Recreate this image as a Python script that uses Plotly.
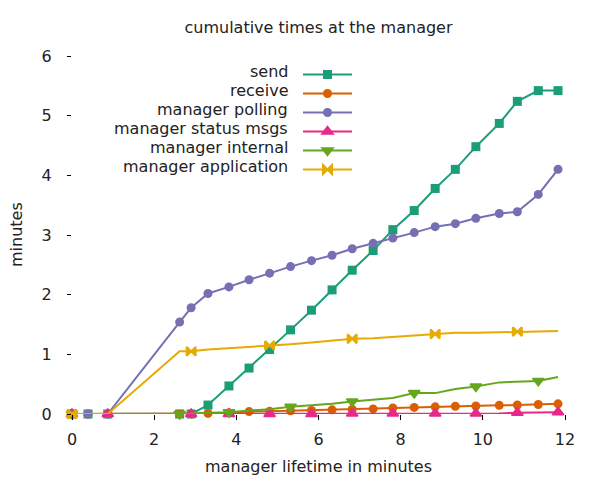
import plotly.graph_objects as go

minutes = [0, 0.39, 0.87, 2.62, 2.90, 3.31, 3.82, 4.31, 4.81, 5.32, 5.83, 6.33,
           6.82, 7.33, 7.81, 8.33, 8.84, 9.33, 9.83, 10.40, 10.84, 11.35, 11.83]

send = [0, 0, 0, 0, 0, 0.15, 0.47, 0.77, 1.08, 1.41, 1.74, 2.08, 2.41, 2.74,
        3.09, 3.41, 3.78, 4.10, 4.48, 4.87, 5.24, 5.42, 5.42]
receive = [0, 0, 0, 0, 0, 0.01, 0.02, 0.04, 0.045, 0.055, 0.06, 0.07, 0.075,
           0.085, 0.10, 0.11, 0.12, 0.13, 0.135, 0.145, 0.15, 0.16, 0.17]
polling = [0, 0, 0, 1.54, 1.78, 2.02, 2.13, 2.25, 2.36, 2.47, 2.57, 2.66, 2.77,
           2.86, 2.95, 3.04, 3.14, 3.19, 3.28, 3.36, 3.39, 3.68, 4.10]
status_msgs = [0, 0, 0, 0, 0, 0, 0, 0, 0, 0, 0, 0.01, 0.01, 0.01, 0.01, 0.01,
               0.01, 0.01, 0.01, 0.01, 0.02, 0.02, 0.03]
internal = [0, 0, 0, 0, 0.01, 0.02, 0.03, 0.06, 0.08, 0.12, 0.14, 0.17, 0.21,
            0.24, 0.27, 0.35, 0.35, 0.42, 0.46, 0.53, 0.54, 0.555, 0.62]
application = [0, 0, 0, 1.05, 1.05, 1.08, 1.10, 1.12, 1.15, 1.17, 1.20, 1.23,
               1.26, 1.27, 1.29, 1.31, 1.34, 1.36, 1.36, 1.37, 1.38, 1.39, 1.39]

series_names = ["send", "receive", "manager polling", "manager status msgs",
                "manager internal", "manager application"]
series_values = [send, receive, polling, status_msgs, internal, application]
colors = ["#1b9e77", "#d95f02", "#7570b3", "#e7298a", "#66a61e", "#e6ab02"]
symbols = ["square", "circle", "circle", "triangle-up", "triangle-down", "bowtie"]
marker_sizes = [9, 9, 9, 10, 10, 9]
marker_outline = [0, 0, 0, 1.5, 1.5, 2]
point_interval = [1, 1, 1, 2, 3, 4]

x_ticks = [0, 2, 4, 6, 8, 10, 12]
y_ticks = [0, 1, 2, 3, 4, 5, 6]

FONT = "DejaVu Sans"

# plot area in pixels
L, R, T, B = 72, 35, 56, 66
W, H = 600, 480
pw = W - L - R
ph = H - T - B

fig = go.Figure()

for name, vals, col, sym, ms, mo, pi in zip(series_names, series_values, colors, symbols,
                                          marker_sizes, marker_outline, point_interval):
    mk = dict(color=col, symbol=sym, size=ms, line=dict(color=col, width=mo))
    fig.add_trace(go.Scatter(x=minutes, y=vals, mode="lines",
                             line=dict(color=col, width=2), showlegend=False,
                             cliponaxis=False, hoverinfo="skip"))
    fig.add_trace(go.Scatter(x=minutes[::pi], y=vals[::pi], mode="markers",
                             marker=mk, showlegend=False, cliponaxis=False, name=name))
    # legend entry (symbol only, text drawn right-aligned as annotation)
    fig.add_trace(go.Scatter(x=[None], y=[None], mode="lines+markers",
                             line=dict(color=col, width=2), marker=mk,
                             name="", showlegend=True))

annotations = []
row0 = 71
row_step = 19.05
for i, name in enumerate(series_names):
    ypix = row0 + i * row_step
    annotations.append(dict(text=name, xref="paper", yref="paper",
                            x=(290 - L) / pw, y=(H - B - ypix) / ph,
                            xanchor="right", yanchor="middle", showarrow=False,
                            font=dict(family=FONT, size=16, color="#222222")))

annotations.append(dict(text="manager lifetime in minutes", xref="paper", yref="paper",
                        x=0.5, y=(H - B - 466) / ph, xanchor="center", yanchor="middle",
                        showarrow=False, font=dict(family=FONT, size=16, color="#222222")))
annotations.append(dict(text="minutes", xref="paper", yref="paper",
                        x=(16 - L) / pw, y=0.5, xanchor="center", yanchor="middle",
                        textangle=-90, showarrow=False,
                        font=dict(family=FONT, size=16, color="#222222")))

fig.update_layout(
    width=W, height=H,
    margin=dict(l=L, r=R, t=T, b=B),
    paper_bgcolor="white", plot_bgcolor="white",
    font=dict(family=FONT, size=16, color="#222222"),
    title=dict(text="cumulative times at the manager", x=0.5, xref="paper",
               y=1 - 27 / H, yref="container", xanchor="center", yanchor="middle",
               font=dict(family=FONT, size=16, color="#222222")),
    xaxis=dict(range=[0, 12], tickvals=x_ticks, showgrid=False, zeroline=False,
               showline=False, ticks="outside", ticklen=5, tickcolor="black",
               ticklabelstandoff=6),
    yaxis=dict(range=[0, 6], tickvals=y_ticks, showgrid=False, zeroline=False,
               showline=False, ticks="outside", ticklen=4, tickcolor="black",
               ticklabelstandoff=12),
    legend=dict(x=(298 - L) / pw, y=(H - B - 60) / ph, xanchor="left", yanchor="top",
                bgcolor="rgba(0,0,0,0)", borderwidth=0, itemwidth=49,
                font=dict(family=FONT, size=12), itemclick=False),
    annotations=annotations,
    showlegend=True,
)

fig.write_html("out.html")
